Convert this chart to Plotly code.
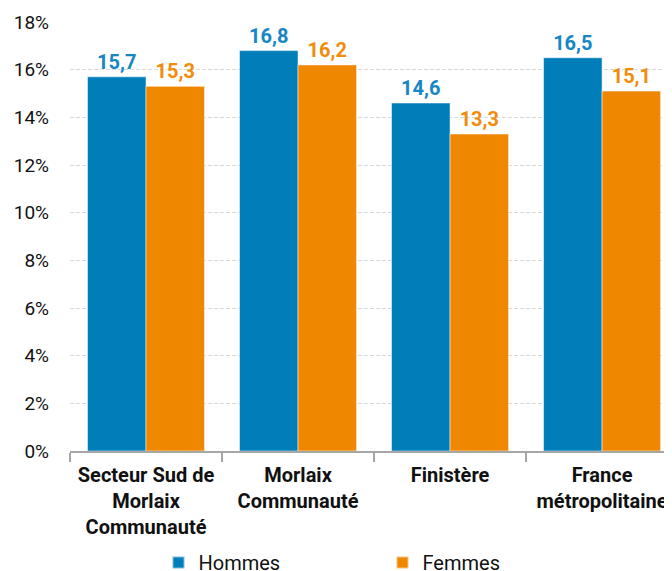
import plotly.graph_objects as go

categories = ["Secteur Sud de<br>Morlaix<br>Communauté", "Morlaix<br>Communauté", "Finistère", "France<br>métropolitaine"]
hommes = [15.7, 16.8, 14.6, 16.5]
femmes = [15.3, 16.2, 13.3, 15.1]
y_ticks = [0, 2, 4, 6, 8, 10, 12, 14, 16, 18]
y_tick_labels = [f"{v}%" for v in y_ticks]

def fmt(v):
    return f"{v:.1f}".replace(".", ",")

fig = go.Figure()
fig.add_trace(go.Bar(
    name="Hommes", x=categories, y=hommes,
    marker=dict(color="#007EB9", line=dict(color="rgba(255,255,255,0.5)", width=1)),
    text=[fmt(v) for v in hommes], textposition="outside",
    textfont=dict(family="Roboto", size=20, color="#1686C4", weight="bold"),
    cliponaxis=False,
))
fig.add_trace(go.Bar(
    name="Femmes", x=categories, y=femmes,
    marker=dict(color="#F08700", line=dict(color="rgba(255,255,255,0.5)", width=1)),
    text=[fmt(v) for v in femmes], textposition="outside",
    textfont=dict(family="Roboto", size=20, color="#F08C0A", weight="bold"),
    cliponaxis=False,
))

fig.update_layout(
    width=672, height=571,
    margin=dict(l=62, r=8, t=14, b=128, autoexpand=False),
    paper_bgcolor="white", plot_bgcolor="white",
    font=dict(family="Roboto", size=19, color="#111111"),
    barmode="group", bargap=0.23, bargroupgap=0,
    showlegend=True,
    legend=dict(orientation="h", x=0.147, xanchor="left", y=-0.26, yanchor="middle",
                font=dict(family="Roboto", size=20, color="#111111"),
                entrywidth=179, entrywidthmode="pixels", itemsizing="constant"),
    hovermode=False,
)
fig.update_xaxes(
    range=[-0.5, 3.46], showline=True, linecolor="#A6A6A6", linewidth=2,
    ticks="outside", tickson="boundaries", ticklen=9, tickcolor="#A6A6A6", tickwidth=1.5,
    tickfont=dict(family="Roboto", size=20, color="#111111", weight="bold"),
    ticklabelstandoff=5,
    showgrid=False, automargin=False,
)
fig.update_yaxes(
    range=[0, 18], tickvals=y_ticks, ticktext=y_tick_labels,
    showgrid=True, gridcolor="#D9D9D9", griddash="4px,2px", gridwidth=1,
    zeroline=False, showline=False, ticks="", ticklabelstandoff=20,
    tickfont=dict(family="Roboto", size=19, color="#111111"),
    automargin=False,
)

fig.write_html("out.html")
